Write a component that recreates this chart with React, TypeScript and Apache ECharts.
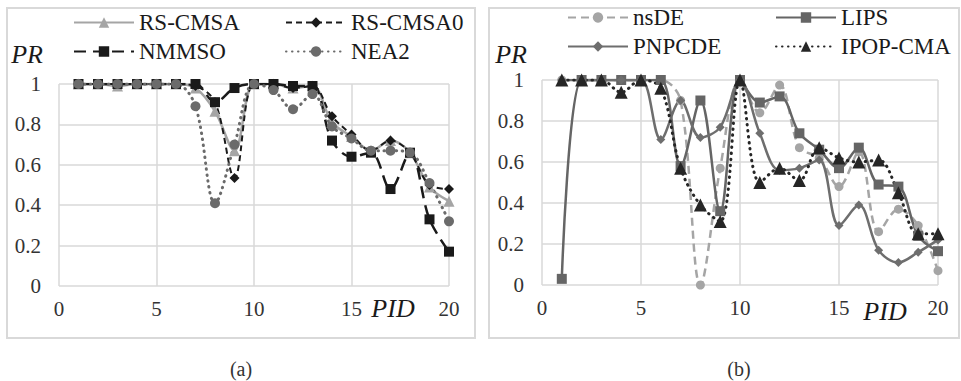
import React, { useEffect, useRef } from "react";
import * as echarts from "echarts";

const pid = [1, 2, 3, 4, 5, 6, 7, 8, 9, 10, 11, 12, 13, 14, 15, 16, 17, 18, 19, 20];

// Panel (a)
const rsCmsa = [1, 1, 0.99, 1, 1, 1, 0.98, 0.865, 0.67, 1, 1, 0.98, 0.99, 0.81, 0.74, 0.67, 0.72, 0.66, 0.49, 0.42];
const rsCmsa0 = [1, 1, 1, 1, 1, 1, 0.99, 0.91, 0.535, 1, 1, 0.98, 0.99, 0.84, 0.75, 0.67, 0.72, 0.66, 0.5, 0.48];
const nmmso = [1, 1, 1, 1, 1, 1, 1, 0.91, 0.98, 1, 1, 0.99, 0.99, 0.72, 0.64, 0.66, 0.48, 0.66, 0.33, 0.17];
const nea2 = [1, 1, 1, 1, 1, 1, 0.89, 0.41, 0.7, 1, 0.97, 0.875, 0.95, 0.79, 0.73, 0.67, 0.67, 0.66, 0.51, 0.32];

// Panel (b)
const nsDE = [1, 1, 1, 1, 1, 1, 0.9, 0, 0.57, 1, 0.84, 0.975, 0.67, 0.62, 0.48, 0.65, 0.26, 0.37, 0.29, 0.07];
const lips = [0.03, 1, 1, 1, 1, 1, 0.58, 0.9, 0.36, 1, 0.89, 0.92, 0.74, 0.66, 0.57, 0.67, 0.49, 0.48, 0.24, 0.165];
const pnpcde = [1, 1, 1, 1, 1, 0.71, 0.9, 0.72, 0.77, 1, 0.74, 0.56, 0.57, 0.61, 0.29, 0.39, 0.17, 0.11, 0.16, 0.22];
const ipopCma = [1, 1, 1, 0.94, 1, 0.96, 0.57, 0.39, 0.31, 1, 0.5, 0.57, 0.51, 0.67, 0.62, 0.6, 0.61, 0.45, 0.25, 0.25];

const xTicks = { min: 0, max: 20, interval: 5 };
const yTicks = { min: 0, max: 1, interval: 0.2 };

const SERIF = "Liberation Serif";

const pair = (v: number[]) => pid.map((p, i) => [p, v[i]]);

export default function App() {
  const ref = useRef<HTMLDivElement>(null);
  useEffect(() => {
    if (!ref.current) return;
    const chart = echarts.init(ref.current, undefined, { renderer: "svg" });

    const gridLine = { show: true, lineStyle: { color: "#d9d9d9", width: 1.5 } };
    const axisLabel = { color: "#333", fontSize: 21, fontFamily: SERIF };

    const mkX = (gi: number) => ({
      type: "value",
      gridIndex: gi,
      ...xTicks,
      axisLine: { show: false },
      axisTick: { show: false },
      splitLine: gridLine,
      axisLabel: { ...axisLabel, margin: 12 },
    });
    const mkY = (gi: number) => ({
      type: "value",
      gridIndex: gi,
      ...yTicks,
      axisLine: { show: false },
      axisTick: { show: false },
      splitLine: gridLine,
      axisLabel: { ...axisLabel, margin: 18 },
    });

    const mkSeries = (
      name: string,
      data: number[],
      gi: number,
      color: string,
      symbol: string,
      symbolSize: number,
      type: any,
      width: number,
      cap: string = "butt"
    ) => ({
      name,
      type: "line",
      xAxisIndex: gi,
      yAxisIndex: gi,
      data: pair(data),
      smooth: 0.35,
      symbol,
      symbolSize,
      itemStyle: { color },
      lineStyle: { color, width, type, cap },
    });

    const legendText = { fontSize: 23, fontFamily: SERIF, color: "#1a1a1a" };
    const mkLegend = (name: string, left: number, top: number) => ({
      data: [name],
      left,
      top,
      padding: 0,
      itemWidth: 60,
      itemHeight: 13,
      selectedMode: false,
      textStyle: legendText,
    });

    const txt = (text: string, x: number, y: number, font: string, fill: string) => ({
      type: "text",
      x,
      y,
      style: { text, font, fill, textAlign: "center", textVerticalAlign: "middle", align: "center", verticalAlign: "middle" },
    });

    const option: any = {
      animation: false,
      textStyle: { fontFamily: SERIF },
      grid: [
        { left: 59, top: 84, width: 390, height: 202 },
        { left: 542, top: 80, width: 396, height: 205 },
      ],
      xAxis: [mkX(0), mkX(1)],
      yAxis: [mkY(0), mkY(1)],
      legend: [
        mkLegend("RS-CMSA", 73, 11),
        mkLegend("RS-CMSA0", 285, 11),
        mkLegend("NMMSO", 73, 40),
        mkLegend("NEA2", 285, 40),
        mkLegend("nsDE", 567, 6),
        mkLegend("LIPS", 775, 6),
        mkLegend("PNPCDE", 567, 35),
        mkLegend("IPOP-CMA", 775, 35),
      ],
      series: [
        mkSeries("RS-CMSA", rsCmsa, 0, "#a5a5a5", "triangle", 11, "solid", 2.5),
        mkSeries("RS-CMSA0", rsCmsa0, 0, "#1a1a1a", "diamond", 10, [6, 4], 2),
        mkSeries("NMMSO", nmmso, 0, "#1a1a1a", "rect", 10, [12, 7], 2.5),
        mkSeries("NEA2", nea2, 0, "#6b6b6b", "circle", 10, [0.5, 5.5], 3, "round"),
        mkSeries("nsDE", nsDE, 1, "#a5a5a5", "circle", 9, [8, 5], 2.5),
        mkSeries("LIPS", lips, 1, "#656565", "rect", 10, "solid", 2.5),
        mkSeries("PNPCDE", pnpcde, 1, "#6e6e6e", "diamond", 9, "solid", 2.5),
        mkSeries("IPOP-CMA", ipopCma, 1, "#262626", "triangle", 13, [0.5, 5.5], 3, "round"),
      ],
      graphic: [
        { type: "rect", shape: { x: 7, y: 8, width: 468, height: 330 }, style: { fill: "none", stroke: "#d9d9d9", lineWidth: 2 }, z: -1 },
        { type: "rect", shape: { x: 489, y: 8, width: 470, height: 330 }, style: { fill: "none", stroke: "#d9d9d9", lineWidth: 2 }, z: -1 },
        txt("PR", 27, 54, `italic 26px ${SERIF}`, "#1a1a1a"),
        txt("PR", 511, 54, `italic 26px ${SERIF}`, "#1a1a1a"),
        txt("PID", 393, 308, `italic 26px ${SERIF}`, "#1a1a1a"),
        txt("PID", 885, 311, `italic 26px ${SERIF}`, "#1a1a1a"),
        txt("(a)", 241, 369, `20px ${SERIF}`, "#333"),
        txt("(b)", 739, 369, `20px ${SERIF}`, "#333"),
      ],
    };
    chart.setOption(option);
    return () => chart.dispose();
  }, []);
  return (
    <div
      ref={ref}
      style={{ position: "fixed", left: 0, top: 0, width: 961, height: 381, background: "#fff" }}
    />
  );
}
